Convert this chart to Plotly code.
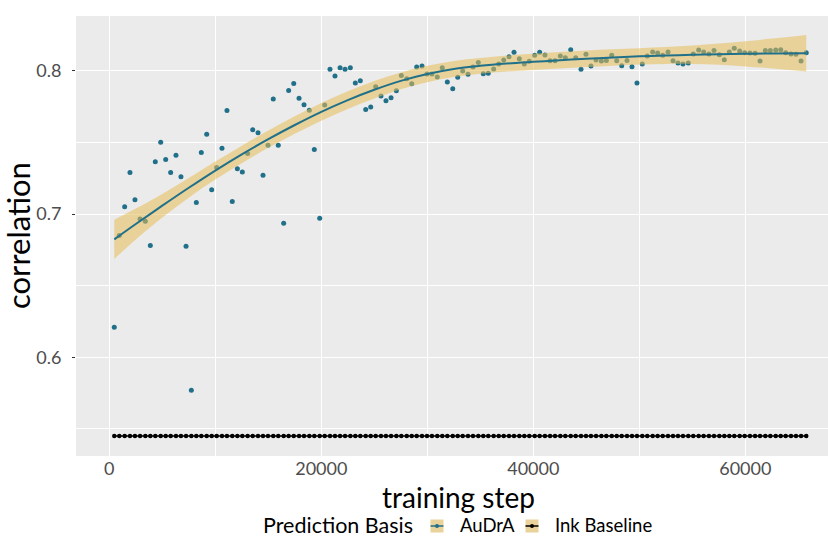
import plotly.graph_objects as go

# ---------------- data ----------------
steps = [470, 943, 1450, 1950, 2420, 2900, 3400, 3870, 4340, 4850,
         5320, 5790, 6290, 6760, 7240, 7740, 8210, 8680, 9190, 9660,
         10130, 10630, 11100, 11600, 12080, 12550, 13050, 13530, 14030, 14500,
         14970, 15470, 15940, 16450, 16920, 17400, 17900, 18370, 18870, 19340,
         19850, 20320, 20820, 21290, 21770, 22240, 22740, 23210, 23680, 24190,
         24660, 25130, 25630, 26100, 26580, 27080, 27550, 28060, 28530, 29000,
         29500, 29970, 30440, 30940, 31410, 31890, 32400, 32870, 33340, 33840,
         34310, 34810, 35280, 35750, 36260, 36740, 37210, 37710, 38180, 38680,
         39150, 39620, 40130, 40600, 41100, 41580, 42050, 42550, 43020, 43530,
         44000, 44500, 44970, 45440, 45920, 46420, 46890, 47400, 47870, 48340,
         48840, 49310, 49780, 50280, 50750, 51260, 51730, 52210, 52710, 53180,
         53650, 54120, 54620, 55090, 55600, 56070, 56570, 57050, 57550, 58020,
         58490, 58960, 59470, 59940, 60440, 60920, 61390, 61890, 62360, 62870,
         63340, 63810, 64310, 64780, 65260, 65750]

audra_corr = [0.621, 0.685, 0.705, 0.729, 0.710, 0.6965, 0.695, 0.678, 0.7365, 0.750,
              0.738, 0.729, 0.741, 0.726, 0.6775, 0.577, 0.708, 0.743, 0.7556, 0.717,
              0.7325, 0.7458, 0.7723, 0.7088, 0.7316, 0.7293, 0.7423, 0.7588, 0.7567, 0.727,
              0.748, 0.7803, 0.748, 0.6935, 0.7862, 0.791, 0.7807, 0.7763, 0.7724, 0.745,
              0.697, 0.776, 0.801, 0.7963, 0.8021, 0.801, 0.8021, 0.7914, 0.793, 0.773,
              0.7746, 0.7888, 0.7823, 0.779, 0.7811, 0.786, 0.7967, 0.7944, 0.7909, 0.8026,
              0.8033, 0.7977, 0.7977, 0.7956, 0.8021, 0.7921, 0.7874, 0.7954, 0.7998, 0.7975,
              0.8026, 0.8058, 0.7979, 0.7982, 0.8012, 0.8047, 0.8075, 0.8098, 0.8129, 0.8084,
              0.8047, 0.8066, 0.8108, 0.8129, 0.811, 0.807, 0.807, 0.8103, 0.8091, 0.8147,
              0.8091, 0.801, 0.8115, 0.8033, 0.8075, 0.8068, 0.8072, 0.8108, 0.807, 0.8035,
              0.8072, 0.8027, 0.7914, 0.8047, 0.8103, 0.8131, 0.8124, 0.8108, 0.8131, 0.807,
              0.8054, 0.8047, 0.8054, 0.8117, 0.8145, 0.8131, 0.8117, 0.8141, 0.8112, 0.8077,
              0.8131, 0.8157, 0.8138, 0.8126, 0.8124, 0.8122, 0.8068, 0.8141, 0.8141, 0.8145,
              0.8147, 0.8126, 0.8117, 0.8115, 0.8068, 0.8126]

ink_baseline_value = 0.545
ink_corr = [ink_baseline_value for _ in steps]

# smoothed trend (loess-like) and its confidence half-width
smooth_x = [470, 2500, 5000, 7500, 10000, 12500, 15000, 17500, 20000, 22500,
            25000, 27500, 30000, 32500, 35000, 37500, 40000, 42500, 45000, 47500,
            50000, 52500, 55000, 57500, 60000, 62500, 65750]
smooth_y = [0.6823, 0.6930, 0.7058, 0.7183, 0.7303, 0.7416, 0.7522, 0.7621, 0.7713, 0.7795,
            0.7867, 0.7929, 0.7977, 0.8012, 0.8034, 0.8050, 0.8062, 0.8073, 0.8083, 0.8092,
            0.8100, 0.8106, 0.8111, 0.8115, 0.8118, 0.8120, 0.8122]
smooth_hw = [0.0137, 0.0108, 0.0082, 0.0069, 0.0063, 0.0061, 0.0060, 0.0061, 0.0062, 0.0062,
             0.0061, 0.0059, 0.0057, 0.0056, 0.0055, 0.0056, 0.0057, 0.0058, 0.0058, 0.0057,
             0.0057, 0.0059, 0.0064, 0.0074, 0.0088, 0.0104, 0.0128]

x_ticks = [0, 20000, 40000, 60000]
y_ticks = [0.6, 0.7, 0.8]
legend_title = "Prediction Basis"
series_names = ["AuDrA", "Ink Baseline"]

# ---------------- styling ----------------
W, H = 828, 539
ML, MR, MT, MB = 76, 0, 16, 83
PW, PH = W - ML - MR, H - MT - MB
FONT = "Lato"
TEAL = "#21708A"
BAND = "rgba(232,190,88,0.55)"
BAND_KEY = "#EAD39A"


def xp(px):
    return (px - ML) / PW


def yp(py):
    return (H - MB - py) / PH


lower = [y - h for y, h in zip(smooth_y, smooth_hw)]
upper = [y + h for y, h in zip(smooth_y, smooth_hw)]

fig = go.Figure()

fig.add_trace(go.Scatter(x=steps, y=audra_corr, mode="markers",
                         marker=dict(color=TEAL, size=5, line=dict(width=0)),
                         name=series_names[0], showlegend=False))
fig.add_trace(go.Scatter(x=steps, y=ink_corr, mode="lines+markers",
                         line=dict(color="black", width=1.5),
                         marker=dict(color="black", size=4.5),
                         name=series_names[1], showlegend=False))
fig.add_trace(go.Scatter(x=smooth_x, y=lower, mode="lines",
                         line=dict(width=0, shape="spline", smoothing=1.0, color=BAND),
                         showlegend=False, hoverinfo="skip"))
fig.add_trace(go.Scatter(x=smooth_x, y=upper, mode="lines",
                         line=dict(width=0, shape="spline", smoothing=1.0, color=BAND),
                         fill="tonexty", fillcolor=BAND,
                         showlegend=False, hoverinfo="skip"))
fig.add_trace(go.Scatter(x=smooth_x, y=smooth_y, mode="lines",
                         line=dict(color=TEAL, width=2, shape="spline", smoothing=1.0),
                         showlegend=False))

x_lo = (ML - 109.3) / 0.0106
x_hi = (W - MR - 109.3) / 0.0106
y_hi = 0.8 + (70.7 - MT) / 1433
y_lo = 0.6 - (H - MB - 357.3) / 1433

axis_common = dict(showline=False, zeroline=False,
                   tickcolor="#333333", tickwidth=1, gridcolor="white", gridwidth=1.2,
                   tickfont=dict(family=FONT, size=18, color="#4D4D4D"))

fig.update_xaxes(range=[x_lo, x_hi], tickvals=x_ticks, ticktext=[str(v) for v in x_ticks],
                 ticks="",
                 minor=dict(tickvals=[10000, 30000, 50000], showgrid=True,
                            gridcolor="white", gridwidth=0.6, ticks=""),
                 **axis_common)
fig.update_yaxes(range=[y_lo, y_hi], tickvals=y_ticks, ticktext=[f"{v:.1f}" for v in y_ticks],
                 ticks="outside", ticklen=3,
                 minor=dict(tickvals=[0.55, 0.65, 0.75], showgrid=True,
                            gridcolor="white", gridwidth=0.6, ticks=""),
                 ticklabelstandoff=7,
                 **axis_common)

annotations = [
    dict(text="training step", x=xp(458), y=yp(497), xref="paper", yref="paper",
         showarrow=False, xanchor="center", yanchor="middle", borderpad=0,
         font=dict(family=FONT, size=28, color="black")),
    dict(text="correlation", x=xp(18), y=yp(236), xref="paper", yref="paper",
         showarrow=False, xanchor="center", yanchor="middle", textangle=-90,
         font=dict(family=FONT, size=31, color="black")),
    dict(text=legend_title, x=xp(262), y=yp(525), xref="paper", yref="paper",
         showarrow=False, xanchor="left", yanchor="middle", borderpad=0,
         font=dict(family=FONT, size=21.5, color="black")),
    dict(text=series_names[0], x=xp(459), y=yp(525), xref="paper", yref="paper",
         showarrow=False, xanchor="left", yanchor="middle", borderpad=0,
         font=dict(family=FONT, size=18.5, color="black")),
    dict(text=series_names[1], x=xp(554), y=yp(525), xref="paper", yref="paper",
         showarrow=False, xanchor="left", yanchor="middle", borderpad=0,
         font=dict(family=FONT, size=18.5, color="black")),
]

shapes = []
for cx, col in [(437, TEAL), (532, "black")]:
    shapes.append(dict(type="rect", xref="paper", yref="paper",
                       x0=xp(cx - 6.5), x1=xp(cx + 6.5), y0=yp(532.5), y1=yp(519.5),
                       fillcolor=BAND_KEY, line=dict(width=0), layer="above"))
    shapes.append(dict(type="line", xref="paper", yref="paper",
                       x0=xp(cx - 6.5), x1=xp(cx + 6.5), y0=yp(526), y1=yp(526),
                       line=dict(color=col, width=1.5), layer="above"))
    shapes.append(dict(type="circle", xref="paper", yref="paper",
                       x0=xp(cx - 2), x1=xp(cx + 2), y0=yp(528), y1=yp(524),
                       fillcolor=col, line=dict(width=0), layer="above"))

fig.update_layout(width=W, height=H, margin=dict(l=ML, r=MR, t=MT, b=MB),
                  paper_bgcolor="white", plot_bgcolor="#EBEBEB",
                  showlegend=False, annotations=annotations, shapes=shapes,
                  font=dict(family=FONT))

fig.write_html("out.html")
